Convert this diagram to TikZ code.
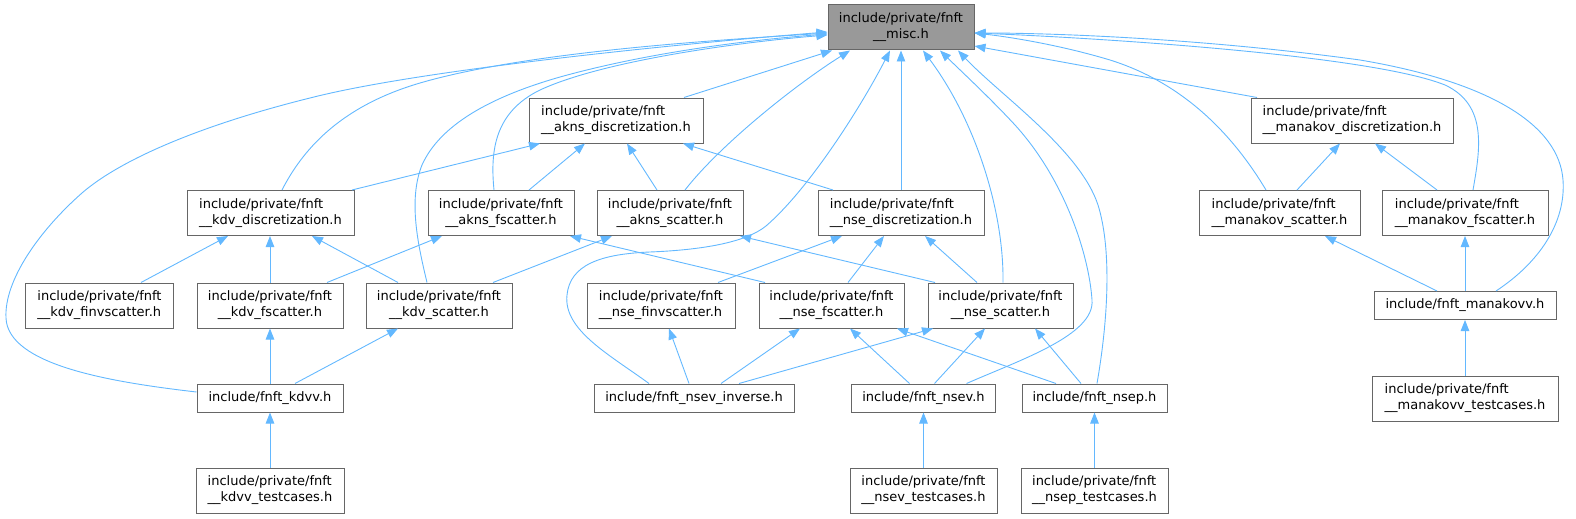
\documentclass[tikz,border=0pt]{standalone}
\usepackage{fontspec}
\setmainfont{DejaVu Sans}
\usetikzlibrary{arrows.meta}
\definecolor{edgeblue}{HTML}{63B8FF}
\definecolor{boxgray}{HTML}{666666}
\definecolor{miscfill}{HTML}{999999}
\begin{document}
\begin{tikzpicture}[x=1pt,y=-1pt,
  box/.style={draw=boxgray, line width=1pt, fill=white, inner sep=0pt, minimum height=45, font=\fontsize{13}{16}\selectfont, text=black},
  lbox/.style={box, align=left},
  cbox/.style={box, align=center},
  one/.style={minimum height=28},
  edge/.style={draw=edgeblue, line width=0.9pt, -{Triangle[length=11pt,width=8.5pt]}}]
\useasboundingbox (0,0) rectangle (1576,519);

% row 0
\node[cbox, fill=miscfill, minimum width=146] (misc) at (901,27.5) {include/private/fnft\\\_\_misc.h};
% row 1
\node[lbox, minimum width=174] (aknsdisc) at (616,120.5) {include/private/fnft\\\_\_akns\_discretization.h};
\node[lbox, minimum width=202] (manadisc) at (1352,120.5) {include/private/fnft\\\_\_manakov\_discretization.h};
% row 2
\node[lbox, minimum width=167] (kdvdisc) at (270.5,213) {include/private/fnft\\\_\_kdv\_discretization.h};
\node[cbox, minimum width=146] (aknsfs) at (501,213) {include/private/fnft\\\_\_akns\_fscatter.h};
\node[cbox, minimum width=146] (aknss) at (670,213) {include/private/fnft\\\_\_akns\_scatter.h};
\node[lbox, minimum width=166] (nsedisc) at (901,213) {include/private/fnft\\\_\_nse\_discretization.h};
\node[lbox, minimum width=161] (manas) at (1279.5,213) {include/private/fnft\\\_\_manakov\_scatter.h};
\node[lbox, minimum width=166] (manafs) at (1465,213) {include/private/fnft\\\_\_manakov\_fscatter.h};
% row 3
\node[lbox, minimum width=148] (kdvfinv) at (99.5,305.5) {include/private/fnft\\\_\_kdv\_finvscatter.h};
\node[cbox, minimum width=146] (kdvfs) at (270,305.5) {include/private/fnft\\\_\_kdv\_fscatter.h};
\node[cbox, minimum width=146] (kdvs) at (439,305.5) {include/private/fnft\\\_\_kdv\_scatter.h};
\node[lbox, minimum width=148] (nsefinv) at (661,305.5) {include/private/fnft\\\_\_nse\_finvscatter.h};
\node[cbox, minimum width=145] (nsefs) at (831.5,305.5) {include/private/fnft\\\_\_nse\_fscatter.h};
\node[cbox, minimum width=145] (nses) at (1000.5,305.5) {include/private/fnft\\\_\_nse\_scatter.h};
\node[cbox, one, minimum width=182] (manakovv) at (1465,305.5) {include/fnft\_manakovv.h};
% row 4
\node[cbox, one, minimum width=146] (kdvv) at (270,398) {include/fnft\_kdvv.h};
\node[cbox, one, minimum width=200] (nsevinv) at (694,398) {include/fnft\_nsev\_inverse.h};
\node[cbox, one, minimum width=144] (nsev) at (923.5,398) {include/fnft\_nsev.h};
\node[cbox, one, minimum width=145] (nsep) at (1094.5,398) {include/fnft\_nsep.h};
\node[lbox, minimum width=186] (manatest) at (1465,398.5) {include/private/fnft\\\_\_manakovv\_testcases.h};
% row 5
\node[lbox, minimum width=148] (kdvvtest) at (270,490.5) {include/private/fnft\\\_\_kdvv\_testcases.h};
\node[lbox, minimum width=147] (nsevtest) at (923.5,490.5) {include/private/fnft\\\_\_nsev\_testcases.h};
\node[lbox, minimum width=147] (nseptest) at (1094.5,490.5) {include/private/fnft\\\_\_nsep\_testcases.h};

% ---- edges into misc
\draw[edge] ([yshift=6]kdvv.west) .. controls (110,382) and (8,365) .. (6,318)
   .. controls (4,280) and (40,230) .. (82,193)
   .. controls (120,160) and (200,125) .. (314,97)
   .. controls (430,68) and (700,42) .. ([yshift=-4.5]misc.west);
\draw[edge] ([xshift=11.5]kdvdisc.north) .. controls (305,145) and (345,105) .. (420,83)
   .. controls (530,51) and (720,40) .. ([yshift=-5.5]misc.west);
\draw[edge] ([xshift=-12]kdvs.north) .. controls (418,245) and (408,200) .. (422,165)
   .. controls (440,125) and (490,97) .. (560,77)
   .. controls (650,52) and (750,40) .. ([yshift=-6.5]misc.west);
\draw[edge] ([xshift=-7]aknsfs.north) .. controls (490,150) and (495,112) .. (540,90)
   .. controls (600,62) and (730,43) .. ([yshift=-7.5]misc.west);
\draw[edge] ([xshift=68]aknsdisc.north) -- ([xshift=-69]misc.south);
\draw[edge] ([xshift=15]aknss.north) .. controls (720,145) and (795,85) .. ([xshift=-51]misc.south);
\draw[edge] ([xshift=-45]nsevinv.north) .. controls (610,355) and (563,330) .. (567,295)
   .. controls (570,265) and (600,254) .. (650,252)
   .. controls (700,250) and (745,243) .. (766,226)
   .. controls (810,188) and (862,105) .. ([xshift=-11]misc.south);
\draw[edge] (nsedisc.north) -- (misc.south);
\draw[edge] ([xshift=2.5]nses.north) .. controls (1004,210) and (975,120) .. ([xshift=22]misc.south);
\draw[edge] ([xshift=43]nsev.north) .. controls (1020,360) and (1095,335) .. (1092,300)
   .. controls (1089,255) and (1065,180) .. (1015,125)
   .. controls (990,98) and (962,72) .. ([xshift=39]misc.south);
\draw[edge] ([xshift=2.5]nsep.north) .. controls (1108,320) and (1112,250) .. (1098,205)
   .. controls (1080,150) and (1000,95) .. ([xshift=57]misc.south);
\draw[edge] ([xshift=-95]manadisc.north) -- ([yshift=-18.5]misc.east);
\draw[edge] ([xshift=-13.5]manas.north) .. controls (1230,130) and (1180,82) .. (1110,60)
   .. controls (1060,45) and (1010,37) .. ([yshift=-5.5]misc.east);
\draw[edge] ([xshift=8]manafs.north) .. controls (1480,150) and (1488,105) .. (1445,85)
   .. controls (1370,55) and (1100,38) .. ([yshift=-5.5]misc.east);
\draw[edge] ([xshift=31]manakovv.north) .. controls (1540,262) and (1566,222) .. (1563,180)
   .. controls (1559,125) and (1490,82) .. (1360,60)
   .. controls (1200,38) and (1050,33) .. ([yshift=-5.5]misc.east);

% ---- into discretization nodes
\draw[edge] ([xshift=81.5]kdvdisc.north) -- ([xshift=-76]aknsdisc.south);
\draw[edge] ([xshift=28]aknsfs.north) -- ([xshift=-31]aknsdisc.south);
\draw[edge] ([xshift=-13]aknss.north) -- ([xshift=11]aknsdisc.south);
\draw[edge] ([xshift=-68]nsedisc.north) -- ([xshift=67]aknsdisc.south);
\draw[edge] ([xshift=17.5]manas.north) -- ([xshift=-12]manadisc.south);
\draw[edge] ([xshift=-28]manafs.north) -- ([xshift=23]manadisc.south);

% ---- row 3 -> row 2
\draw[edge] ([xshift=41.5]kdvfinv.north) -- ([xshift=-42.5]kdvdisc.south);
\draw[edge] (kdvfs.north) -- (kdvfs.north |- kdvdisc.south);
\draw[edge] ([xshift=-41]kdvs.north) -- ([xshift=41.5]kdvdisc.south);
\draw[edge] ([xshift=57]kdvfs.north) -- ([xshift=-59]aknsfs.south);
\draw[edge] ([xshift=54]kdvs.north) -- ([xshift=-58]aknss.south);
\draw[edge] ([xshift=-66.5]nsefs.north) -- ([xshift=69]aknsfs.south);
\draw[edge] ([xshift=-65.5]nses.north) -- ([xshift=70]aknss.south);
\draw[edge] ([xshift=57]nsefinv.north) -- ([xshift=-59]nsedisc.south);
\draw[edge] ([xshift=16.5]nsefs.north) -- ([xshift=-17]nsedisc.south);
\draw[edge] ([xshift=-23.5]nses.north) -- ([xshift=24]nsedisc.south);
\draw[edge] ([xshift=-28]manakovv.north) -- ([xshift=45.5]manas.south);
\draw[edge] (manakovv.north) -- (manafs.south);

% ---- row 4 -> row 3
\draw[edge] (kdvv.north) -- (kdvfs.south);
\draw[edge] ([xshift=25]kdvv.north) -- ([xshift=-41]kdvs.south);
\draw[edge] ([xshift=-5]nsevinv.north) -- ([xshift=8]nsefinv.south);
\draw[edge] ([xshift=27]nsevinv.north) -- ([xshift=-31.5]nsefs.south);
\draw[edge] ([xshift=45]nsevinv.north) -- ([xshift=-67.5]nses.south);
\draw[edge] ([xshift=-14]nsev.north) -- ([xshift=18.5]nsefs.south);
\draw[edge] ([xshift=11]nsev.north) -- ([xshift=-15.5]nses.south);
\draw[edge] ([xshift=-38.5]nsep.north) -- ([xshift=65.5]nsefs.south);
\draw[edge] ([xshift=-13.5]nsep.north) -- ([xshift=34.5]nses.south);
\draw[edge] (manatest.north) -- (manakovv.south);

% ---- row 5 -> row 4
\draw[edge] (kdvvtest.north) -- (kdvv.south);
\draw[edge] (nsevtest.north) -- (nsev.south);
\draw[edge] (nseptest.north) -- (nsep.south);
\end{tikzpicture}
\end{document}
